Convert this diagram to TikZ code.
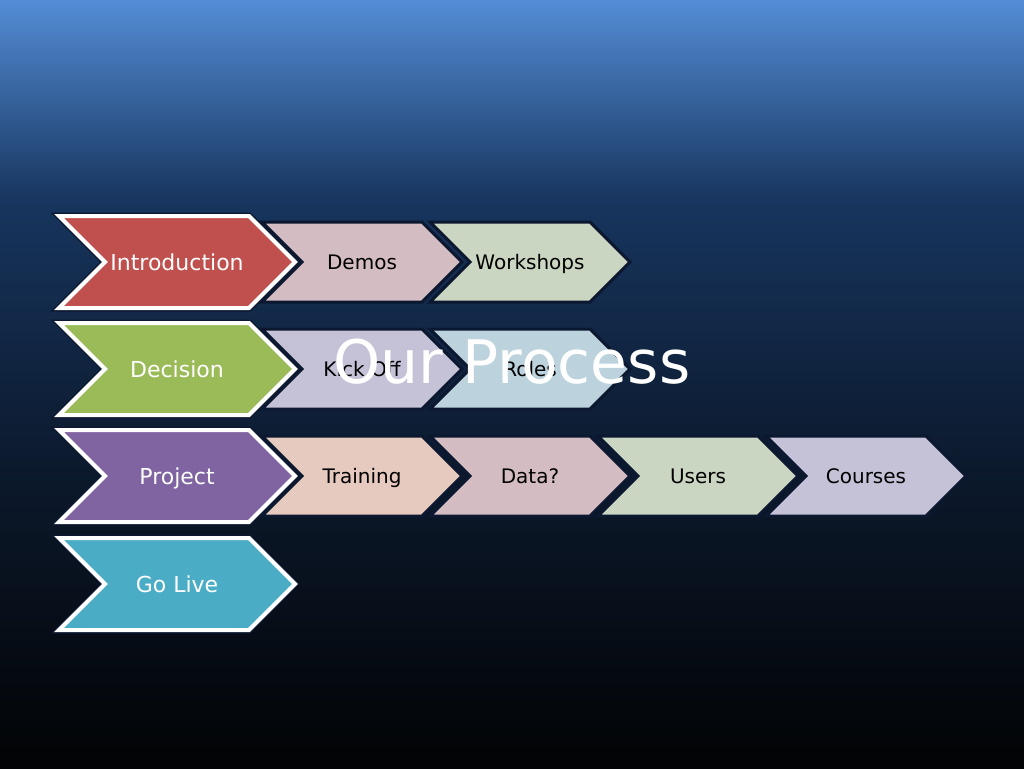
\documentclass[tikz,border=0pt]{standalone}
\usepackage{fontspec}
\setmainfont{DejaVu Sans}
\usetikzlibrary{positioning,shapes.symbols}

\definecolor{bgtop}{HTML}{548DD6}
\definecolor{bgnavy}{HTML}{17355E}
\definecolor{bgmid}{HTML}{0C1A2E}
\definecolor{bgbottom}{HTML}{020304}
\definecolor{rimdark}{HTML}{0B1830}
\definecolor{introred}{HTML}{C0504D}
\definecolor{decisiongreen}{HTML}{9BBB59}
\definecolor{projectpurple}{HTML}{8064A2}
\definecolor{liveaqua}{HTML}{4BACC6}
\definecolor{tintred}{HTML}{D3BCC2}
\definecolor{tintgreen}{HTML}{CBD6C2}
\definecolor{tintlilac}{HTML}{C5C1D6}
\definecolor{tintblue}{HTML}{BCD3DE}
\definecolor{tintpeach}{HTML}{E6CABF}

\pgfdeclareverticalshading{slidebg}{100bp}{color(0bp)=(bgbottom); color(25bp)=(bgbottom); color(45bp)=(bgmid); color(62bp)=(bgnavy); color(75bp)=(bgtop); color(100bp)=(bgtop)}

\tikzstyle{stage} = [signal, signal to=east, signal from=west, signal pointer angle=90, minimum width=236pt, minimum height=92pt, inner sep=0pt, text height=16pt, text depth=0pt, draw=white, line width=4pt, text=white, font=\fontsize{22}{26}\selectfont, preaction={draw=rimdark, line width=7pt}]
\tikzstyle{task} = [signal, signal to=east, signal from=west, signal pointer angle=90, minimum width=200pt, minimum height=80pt, inner sep=0pt, text height=14.6pt, text depth=0pt, draw=rimdark, line width=3pt, text=black, font=\fontsize{20}{24}\selectfont]

\begin{document}
\begin{tikzpicture}[x=1pt, y=-1pt]
    \shade[shading=slidebg] (0,0) rectangle (1024,768);
    \useasboundingbox (0,0) rectangle (1024,768);

    \node (demos) [task, fill=tintred] at (362,262) {Demos}; % first row of tasks
    \node (workshops) [task, fill=tintgreen, right of=demos, node distance=168pt] {Workshops};

    \node (kickoff) [task, fill=tintlilac] at (362,369) {Kick Off}; % second row
    \node (roles) [task, fill=tintblue, right of=kickoff, node distance=168pt] {Roles};

    \node (training) [task, fill=tintpeach] at (362,476) {Training}; % third row
    \node (data) [task, fill=tintred, right of=training, node distance=168pt] {Data?};
    \node (users) [task, fill=tintgreen, right of=data, node distance=168pt] {Users};
    \node (courses) [task, fill=tintlilac, right of=users, node distance=168pt] {Courses};

    \node (intro) [stage, fill=introred] at (177,262) {Introduction}; % main stages sit on top
    \node (decision) [stage, fill=decisiongreen, below of=intro, node distance=107pt] {Decision};
    \node (project) [stage, fill=projectpurple, below of=decision, node distance=107pt] {Project};
    \node (golive) [stage, fill=liveaqua, below of=project, node distance=108pt] {Go Live};

    \node (title) [text=white, font=\fontsize{60}{66}\selectfont, text height=44pt, text depth=0pt] at (512,361) {Our Process};
  \end{tikzpicture}
\end{document}
